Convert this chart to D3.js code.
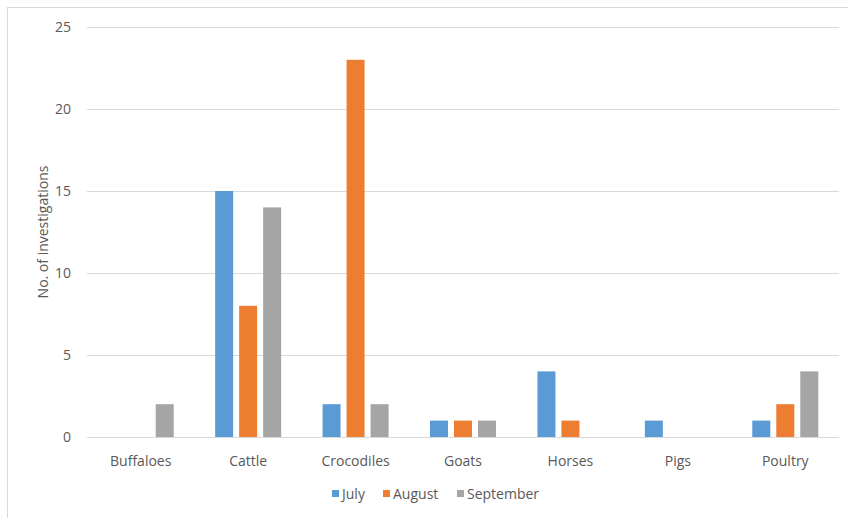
<!DOCTYPE html>
<html>
<head>
<meta charset="utf-8">
<script src="https://cdn.jsdelivr.net/npm/d3@7"></script>
<style>
  body { margin: 0; background: #fff; }
  text { font-family: "Open Sans", Lato, sans-serif; fill: #595959; }
</style>
</head>
<body>
<svg width="848" height="518"></svg>
<script>
const categories = ["Buffaloes", "Cattle", "Crocodiles", "Goats", "Horses", "Pigs", "Poultry"];
const seriesNames = ["July", "August", "September"];
const july      = [0, 15, 2, 1, 4, 1, 1];
const august    = [0, 8, 23, 1, 1, 0, 2];
const september = [2, 14, 2, 1, 0, 0, 4];
const yTicks = [0, 5, 10, 15, 20, 25];
const colors = ["#5B9BD5", "#ED7D31", "#A5A5A5"];

const series = [july, august, september];

const svg = d3.select("svg"),
      width = +svg.attr("width"),
      height = +svg.attr("height");

// outer chart frame
svg.append("rect")
  .attr("x", 7.5).attr("y", 7.5)
  .attr("width", width).attr("height", height)
  .attr("fill", "none")
  .attr("stroke", "#d9d9d9");

const plotLeft = 87, plotRight = 839, plotTop = 27, plotBottom = 437;

const x0 = d3.scaleBand().domain(categories).range([plotLeft, plotRight]);
const x1 = d3.scaleBand().domain(seriesNames).range([0, 72])
  .paddingInner(0.25).paddingOuter(0.125);
const y = d3.scaleLinear().domain([0, 25]).range([plotBottom, plotTop]);

// gridlines
svg.append("g")
  .selectAll("line")
  .data(yTicks)
  .join("line")
    .attr("x1", plotLeft).attr("x2", plotRight)
    .attr("y1", d => Math.round(y(d)) + 0.5)
    .attr("y2", d => Math.round(y(d)) + 0.5)
    .attr("stroke", "#d9d9d9")
    .attr("stroke-width", 1);

// y tick labels
svg.append("g")
  .selectAll("text")
  .data(yTicks)
  .join("text")
    .attr("x", 71)
    .attr("y", d => y(d))
    .attr("dy", "0.35em")
    .attr("text-anchor", "end")
    .style("font-size", "14px")
    .text(d => d);

// bars
const offset = (x0.bandwidth() - 72) / 2;
const group = svg.append("g")
  .selectAll("g")
  .data(categories)
  .join("g")
    .attr("transform", d => `translate(${x0(d) + offset},0)`);

group.selectAll("rect")
  .data((c, ci) => series.map((s, si) => ({ name: seriesNames[si], value: s[ci], i: si }))
                         .filter(d => d.value > 0))
  .join("rect")
    .attr("x", d => x1(d.name))
    .attr("width", x1.bandwidth())
    .attr("y", d => y(d.value))
    .attr("height", d => y(0) - y(d.value))
    .attr("fill", d => colors[d.i]);

// category labels
svg.append("g")
  .selectAll("text")
  .data(categories)
  .join("text")
    .attr("x", d => x0(d) + x0.bandwidth() / 2)
    .attr("y", 461)
    .attr("dy", "0.35em")
    .attr("text-anchor", "middle")
    .style("font-size", "14px")
    .text(d => d);

// y axis title
svg.append("text")
  .attr("transform", `translate(43,${(plotTop + plotBottom) / 2}) rotate(-90)`)
  .attr("dy", "0.35em")
  .attr("text-anchor", "middle")
  .style("font-size", "14px")
  .text("No. of investigations");

// legend
const legendX = [332, 383, 457];
const legend = svg.append("g")
  .selectAll("g")
  .data(seriesNames)
  .join("g")
    .attr("transform", (d, i) => `translate(${legendX[i]},494)`);

legend.append("rect")
  .attr("x", 0).attr("y", -4)
  .attr("width", 7).attr("height", 7)
  .attr("fill", (d, i) => colors[i]);

legend.append("text")
  .attr("x", 10)
  .attr("dy", "0.35em")
  .style("font-size", "14px")
  .text(d => d);
</script>
</body>
</html>
